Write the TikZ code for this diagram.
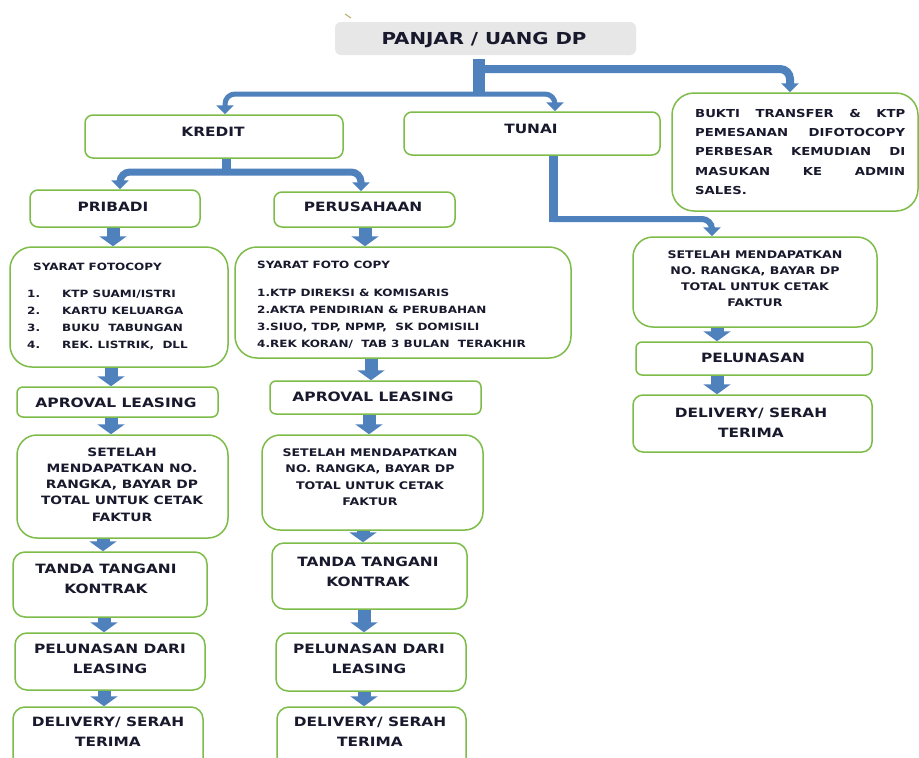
\documentclass[tikz,border=0pt]{standalone}
\usepackage{fontspec}
\setmainfont{DejaVu Sans}[FakeStretch=1.2]
\usetikzlibrary{arrows.meta}
\definecolor{boxgreen}{RGB}{125,188,72}
\definecolor{arrblue}{RGB}{79,129,189}
\definecolor{txtc}{RGB}{25,25,45}
\definecolor{titlegray}{RGB}{231,231,231}
\newcommand\fsz[2]{\fontsize{#1}{#2}\selectfont\bfseries}
\newcommand\bx[6]{%
  \node[box, rounded corners=#6pt, minimum width={(#4-#2)*1pt}, minimum height={(#5-#3)*1pt}] (#1) at ({(#2+#4)/2},{(#3+#5)/2}) {};}
\newcommand\barr[3]{\draw[barrow] (#1.south -| #3,0) -- (#2.north -| #3,0);}
\tikzset{
  box/.style={draw=boxgreen, line width=1.5pt, fill=white, inner sep=0pt},
  txt/.style={inner sep=0pt, text=txtc, align=center},
  smalltxt/.style={txt, font=\fsz{10.5}{16.5}},
  medtxt/.style={txt, font=\fsz{12.8}{20}},
  barrow/.style={draw=arrblue, line width=13pt, -{Triangle[width=27pt,length=10pt]}},
  bendarrow/.style={draw=arrblue, rounded corners=10pt, -{Triangle[width=17pt,length=9pt]}},
  stem/.style={draw=arrblue},
}
\begin{document}
\begin{tikzpicture}[x=1pt,y=-1pt]
\useasboundingbox (0,0) rectangle (919,758);
\clip (0,0) rectangle (919,758);
\fill[white] (0,0) rectangle (919,758);

% tick mark
\draw[line width=1.2pt, color=gray!60!yellow] (345,14) -- (351,18);

% title
\node[fill=titlegray, rounded corners=6pt, minimum width=301pt, minimum height=33pt, inner sep=0pt] (panjar) at (485.5,38.5) {};
\node[txt, font=\fsz{16.5}{20}] (panjarT) at (484,40) {PANJAR / UANG DP};

% boxes
\bx{kredit}{85}{115}{343}{158}{8}
\bx{tunai}{404}{112}{660}{155}{8}
\bx{bukti}{672}{93}{918}{211}{22}
\bx{pribadi}{30}{190}{200}{227}{8}
\bx{perus}{274}{192}{455}{227}{8}
\bx{syL}{10}{247}{228}{367}{22}
\bx{apL}{17}{387}{218}{417}{6}
\bx{setL}{17}{435}{228}{538}{20}
\bx{tdL}{13}{552}{207}{617}{12}
\bx{plL}{15}{633}{205}{690}{12}
\bx{dlL}{13}{707}{203}{775}{12}
\bx{syM}{235}{247}{571}{358}{22}
\bx{apM}{270}{381}{481}{414}{6}
\bx{setM}{262}{435}{483}{530}{18}
\bx{tdM}{272}{543}{467}{609}{12}
\bx{plM}{276}{633}{466}{691}{12}
\bx{dlM}{277}{707}{466}{775}{12}
\bx{setR}{633}{237}{877}{327}{20}
\bx{plR}{636}{342}{872}{375}{6}
\bx{dlR}{633}{395}{872}{452}{10}

% junction points
\coordinate (j0) at (479,69);
\coordinate (j1) at (479,94);
\coordinate (k1) at (226,172);
\coordinate (t1) at (553,219);

% bent connectors
\draw[stem, line width=12pt, shorten <=4pt] (panjar.south -| 479,0) -- ([yshift=-2pt]j1);
\draw[bendarrow, line width=8pt] (j0) -| (bukti.north -| 790,0);
\draw[bendarrow, line width=5pt] (j1) -| (kredit.north -| 225,0);
\draw[bendarrow, line width=5pt] (j1) -| (tunai.north -| 555,0);
\draw[stem, line width=9pt] (kredit.south -| 226,0) -- ([yshift=-3pt]k1);
\draw[bendarrow, line width=7pt] (k1) -| (pribadi.north -| 120,0);
\draw[bendarrow, line width=7pt] (k1) -| (perus.north -| 361,0);
\draw[stem, line width=9pt] (tunai.south -| 553,0) -- ([yshift=-3pt]t1);
\draw[bendarrow, line width=6pt] (t1) -| (setR.north -| 712,0);

% block arrows
\barr{pribadi}{syL}{113}
\barr{perus}{syM}{365}
\barr{syL}{apL}{111}
\barr{syM}{apM}{371}
\barr{apL}{setL}{111}
\barr{apM}{setM}{369}
\barr{setL}{tdL}{103}
\barr{setM}{tdM}{363}
\barr{tdL}{plL}{104}
\barr{tdM}{plM}{364}
\barr{plL}{dlL}{104}
\barr{plM}{dlM}{364}
\barr{setR}{plR}{717}
\barr{plR}{dlR}{717}

% texts
\node[medtxt] (kreditT) at (213,132) {KREDIT};
\node[medtxt] (tunaiT) at (531,129) {TUNAI};
\node[medtxt] (pribadiT) at (113,207) {PRIBADI};
\node[medtxt] (perusT) at (363,207) {PERUSAHAAN};
\node[txt, align=justify, text width=210pt, anchor=north west, font=\fsz{11}{19.3}] (buktiT) at (695,109)
 {BUKTI TRANSFER \& KTP\linebreak PEMESANAN DIFOTOCOPY\linebreak PERBESAR KEMUDIAN DI\linebreak MASUKAN\ \ KE\ \ ADMIN\linebreak SALES.};

\node[txt, anchor=west, font=\fsz{10}{17}] (syLT) at (33,267) {SYARAT FOTOCOPY};
\node[txt, align=left, anchor=north west, font=\fsz{10}{17}] (syLL) at (27,290.3)
 {\makebox[35pt][l]{1.}KTP SUAMI/ISTRI\\\makebox[35pt][l]{2.}KARTU KELUARGA\\\makebox[35pt][l]{3.}BUKU\ \ TABUNGAN\\\makebox[35pt][l]{4.}REK. LISTRIK,\ \ DLL};
\node[txt, anchor=west, font=\fsz{10}{17}] (syMT) at (257,265) {SYARAT FOTO COPY};
\node[txt, align=left, anchor=north west, font=\fsz{10}{16.7}] (syML) at (257,289.3)
 {1.KTP DIREKSI \& KOMISARIS\\2.AKTA PENDIRIAN \& PERUBAHAN\\3.SIUO, TDP, NPMP,\ \ SK DOMISILI\\4.REK KORAN/\ \ TAB 3 BULAN\ \ TERAKHIR};

\node[txt, font=\fsz{12.9}{20}] (apLT) at (116,403) {APROVAL LEASING};
\node[txt, font=\fsz{12.9}{20}] (apMT) at (373,397) {APROVAL LEASING};

\node[txt, font=\fsz{11.5}{16.3}] (setLT) at (122,484.5) {SETELAH\\MENDAPATKAN NO.\\RANGKA, BAYAR DP\\TOTAL UNTUK CETAK\\FAKTUR};
\node[smalltxt] (setMT) at (370,477) {SETELAH MENDAPATKAN\\NO. RANGKA, BAYAR DP\\TOTAL UNTUK CETAK\\FAKTUR};
\node[txt, font=\fsz{10.5}{16}] (setRT) at (755,279) {SETELAH MENDAPATKAN\\NO. RANGKA, BAYAR DP\\TOTAL UNTUK CETAK\\FAKTUR};

\node[medtxt] (tdLT) at (106,579) {TANDA TANGANI\\KONTRAK};
\node[medtxt] (tdMT) at (368,572) {TANDA TANGANI\\KONTRAK};
\node[medtxt] (plLT) at (110,659) {PELUNASAN DARI\\LEASING};
\node[medtxt] (plMT) at (369,658.5) {PELUNASAN DARI\\LEASING};
\node[medtxt] (dlLT) at (108,732) {DELIVERY/ SERAH\\TERIMA};
\node[medtxt] (dlMT) at (370,732) {DELIVERY/ SERAH\\TERIMA};
\node[medtxt] (plRT) at (753,358) {PELUNASAN};
\node[medtxt] (dlRT) at (751,423) {DELIVERY/ SERAH\\TERIMA};
\end{tikzpicture}
\end{document}
